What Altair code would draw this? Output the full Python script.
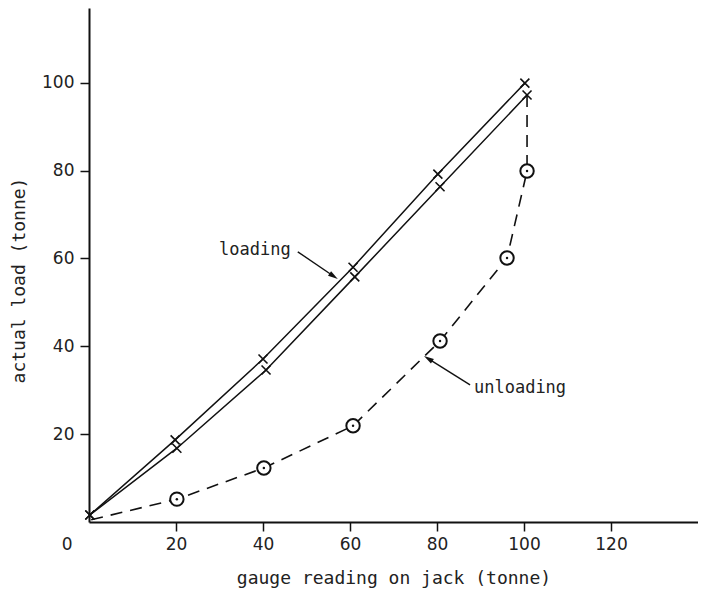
import math
import altair as alt
import pandas as pd

# ---- data ----
up_x = [0.2, 19.8, 40.0, 60.7, 80.2, 100.2]
up_y = [1.6, 18.7, 37.1, 58.0, 79.2, 99.9]
lo_x = [0.2, 20.2, 40.7, 61.1, 80.7, 100.7]
lo_y = [1.6, 16.8, 34.6, 55.8, 76.3, 97.2]
un_x = [0.5, 20.2, 40.2, 60.7, 80.7, 96.1, 100.7]
un_y = [0.5, 5.2, 12.3, 21.9, 41.2, 60.1, 79.9]
drop_x = [100.7, 100.7]
drop_y = [97.2, 79.9]

x_ticks = [20, 40, 60, 80, 100, 120]
y_ticks = [20, 40, 60, 80, 100]
x_domain = [0, 140]
y_domain = [0, 117]

note_text = ["loading", "unloading"]
note_x = [29.9, 88.5]
note_y = [61.9, 30.5]
arrow_tail_x = [48.0, 87.6]
arrow_tail_y = [61.5, 31.2]
arrow_tip_x = [57.2, 77.0]
arrow_tip_y = [55.3, 37.8]

origin_label = ["0"]
origin_x = [-5]
origin_y = [-5.2]

# ---- layout ----
W, H = 609, 514
kx = W / (x_domain[1] - x_domain[0])
ky = H / (y_domain[1] - y_domain[0])

INK = "#111111"
TXT = "#222222"
SANS = "DejaVu Sans"
MONO = "DejaVu Sans Mono"

xs = alt.Scale(domain=x_domain, nice=False, zero=False)
ys = alt.Scale(domain=y_domain, nice=False, zero=False)

xaxis = alt.Axis(values=x_ticks, title="gauge reading on jack (tonne)", grid=False,
                 domainColor=INK, domainWidth=2, tickColor=INK, tickWidth=1.5, tickSize=9,
                 labelFont=SANS, labelFontSize=17, labelColor=TXT, labelPadding=5,
                 labelFlush=False, titleFont=MONO, titleFontSize=18, titleFontWeight="normal",
                 titleColor=TXT, titleY=61, titleBaseline="alphabetic")
yaxis = alt.Axis(values=y_ticks, title="actual load (tonne)", grid=False,
                 domainColor=INK, domainWidth=2, tickColor=INK, tickWidth=1.5, tickSize=9,
                 labelFont=SANS, labelFontSize=17, labelColor=TXT, labelPadding=6,
                 labelFlush=False, titleFont=MONO, titleFontSize=18, titleFontWeight="normal",
                 titleColor=TXT, titleX=-70, titleY=272, titleAngle=270,
                 titleAlign="center", titleBaseline="middle")

up_df = pd.DataFrame({"x": up_x, "y": up_y})
lo_df = pd.DataFrame({"x": lo_x, "y": lo_y})
un_df = pd.DataFrame({"x": un_x, "y": un_y})
circ_df = un_df.iloc[1:].reset_index(drop=True)
drop_df = pd.DataFrame({"x": drop_x, "y": drop_y, "o": [0, 1]})

base_x = alt.X("x:Q", scale=xs, axis=xaxis)
base_y = alt.Y("y:Q", scale=ys, axis=yaxis)

up_line = alt.Chart(up_df).mark_line(color=INK, strokeWidth=1.5).encode(x=base_x, y=base_y)
lo_line = alt.Chart(lo_df).mark_line(color=INK, strokeWidth=1.5).encode(x="x:Q", y="y:Q")

xmark = "M-1,-1L1,1M-1,1L1,-1"
up_pts = alt.Chart(up_df).mark_point(shape=xmark, filled=False, size=81, color=INK,
                                     strokeWidth=1.6, opacity=1).encode(x="x:Q", y="y:Q")
lo_pts = alt.Chart(lo_df).mark_point(shape=xmark, filled=False, size=81, color=INK,
                                     strokeWidth=1.6, opacity=1).encode(x="x:Q", y="y:Q")

un_line = alt.Chart(un_df).mark_line(color=INK, strokeWidth=1.6, strokeDash=[12, 8]).encode(
    x="x:Q", y="y:Q")
drop_line = alt.Chart(drop_df).mark_line(color=INK, strokeWidth=1.6, strokeDash=[12, 8]).encode(
    x="x:Q", y="y:Q", order="o:O")

circles = alt.Chart(circ_df).mark_point(shape="circle", filled=True, fill="white", stroke=INK,
                                        strokeWidth=2, size=180, opacity=1).encode(x="x:Q", y="y:Q")
dots = alt.Chart(circ_df).mark_point(shape="circle", filled=True, size=6, color=INK,
                                     opacity=1).encode(x="x:Q", y="y:Q")

# arrows (head drawn as a custom filled path pointing "up", rotated to the arrow direction)
HEAD_SIZE = 100  # custom path spans sqrt(size) px
half = math.sqrt(HEAD_SIZE) / 2
arr_rows = []
for tx, ty, hx, hy in zip(arrow_tail_x, arrow_tail_y, arrow_tip_x, arrow_tip_y):
    dxp = (hx - tx) * kx
    dyp = -(hy - ty) * ky
    L = math.hypot(dxp, dyp)
    ux, uy = dxp / L, dyp / L
    ang = math.degrees(math.atan2(ux, -uy)) % 360
    cx = hx - half * ux / kx
    cy = hy + half * uy / ky
    arr_rows.append({"x": tx, "y": ty, "x2": cx, "y2": cy, "hx": cx, "hy": cy, "ang": ang})
arr_df = pd.DataFrame(arr_rows)

arrow_lines = alt.Chart(arr_df).mark_rule(color=INK, strokeWidth=1.4).encode(
    x="x:Q", y="y:Q", x2="x2:Q", y2="y2:Q")
head_path = "M0,-1L0.55,1L-0.55,1Z"
arrow_heads = alt.Chart(arr_df).mark_point(shape=head_path, filled=True, size=HEAD_SIZE,
                                           color=INK, opacity=1).encode(
    x="hx:Q", y="hy:Q", angle=alt.Angle("ang:Q", scale=None))

notes_df = pd.DataFrame({"t": note_text, "x": note_x, "y": note_y})
notes = alt.Chart(notes_df).mark_text(font=MONO, fontSize=17, color=TXT, align="left",
                                      baseline="middle").encode(x="x:Q", y="y:Q", text="t:N")

origin_df = pd.DataFrame({"t": origin_label, "x": origin_x, "y": origin_y})
origin = alt.Chart(origin_df).mark_text(font=SANS, fontSize=17, color=TXT, align="center",
                                        baseline="middle").encode(x="x:Q", y="y:Q", text="t:N")

chart = alt.layer(up_line, lo_line, un_line, drop_line, up_pts, lo_pts, circles, dots,
                  arrow_lines, arrow_heads, notes, origin).properties(
    width=W, height=H,
    autosize=alt.AutoSizeParams(type="none"),
    padding={"left": 81, "top": 0, "right": 0, "bottom": 66},
    background="white",
).configure_view(stroke=None)

chart.save("out.html", embed_options={"renderer": "svg", "actions": False})
